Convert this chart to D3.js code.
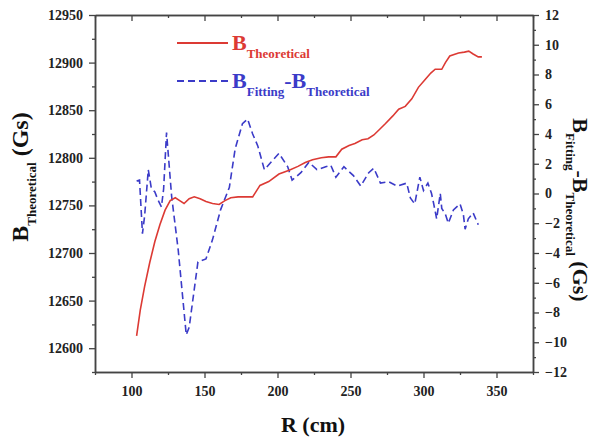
<!DOCTYPE html>
<html>
<head>
<meta charset="utf-8">
<script src="https://cdn.jsdelivr.net/npm/d3@7"></script>
<style>
  body { margin: 0; background: #fff; }
  svg text { font-family: "Liberation Serif", "Times New Roman", serif; font-weight: bold; }
</style>
</head>
<body>
<script>
// Red curve: B_Theoretical (left axis)
var rTheo = [103.5, 106, 109, 112.5, 116, 119.5, 123, 126.5, 130, 133, 136, 139.5, 143, 147, 151, 155.5,
  160, 164, 168, 173, 178, 183, 185.5, 188, 194, 201, 208, 214, 219, 224, 230, 235, 240, 244, 249, 253,
  258, 262, 266, 270, 274, 279, 283, 287.5, 292, 296.5, 301, 305, 308, 312.5, 315, 318, 324, 328, 331,
  334, 337.5, 340];
var bTheo = [12613, 12640, 12665, 12690, 12712, 12730, 12745, 12755, 12758, 12755, 12752, 12757, 12759,
  12757, 12754, 12752, 12751, 12755, 12758, 12759, 12759, 12759, 12765, 12771, 12775, 12783, 12787,
  12791, 12795, 12798, 12800, 12801, 12801, 12809, 12813, 12815, 12819, 12820, 12824, 12830, 12836,
  12844, 12851, 12854, 12862, 12874, 12882, 12889, 12893, 12893, 12900, 12907, 12910, 12911, 12912,
  12909, 12906, 12906];

// Blue curve: B_Fitting - B_Theoretical (right axis)
var rDiff = [103.5, 105.5, 107.5, 109, 111.5, 113.5, 116, 118, 120.5, 122, 124, 127.5, 132, 137.5, 139.5,
  145.5, 151, 155.5, 161, 167, 171, 176, 179.5, 183, 186.5, 191, 195.5, 201, 207, 210, 216, 221.5, 227,
  233, 236.5, 240, 245.5, 252, 257, 262.5, 266, 270.5, 276, 282, 288.5, 291, 294, 297.5, 300, 303,
  305.5, 307, 309, 311.5, 312.5, 315, 317, 320.5, 325, 327.3, 328.5, 330.7, 334, 337.5];
var dDiff = [0.84, 0.9, -2.7, -1.5, 1.6, 0.4, 0.1, -0.4, -0.9, 0.3, 4.1, -0.2, -3.8, -9.5, -9.0,
  -4.6, -4.4, -3.1, -1.1, 0.4, 3.0, 4.7, 5.0, 4.0, 3.2, 1.6, 2.1, 2.7, 1.8, 0.9, 1.4, 2.1, 1.6,
  1.8, 1.9, 1.1, 1.8, 1.2, 0.5, 1.4, 1.7, 0.7, 0.8, 0.5, 0.7, -0.3, -0.7, 1.1, 0.2, 0.7,
  0, -0.7, -1.7, 0, -1.0, -1.4, -2.0, -1.1, -0.7, -1.4, -2.4, -1.7, -1.3, -2.1];

var xTicks = [100, 150, 200, 250, 300, 350];
var xMinor = [75, 125, 175, 225, 275, 325, 375];
var yLeftTicks = [12600, 12650, 12700, 12750, 12800, 12850, 12900, 12950];
var yLeftMinor = [12575, 12625, 12675, 12725, 12775, 12825, 12875, 12925];
var yRightTicks = d3.range(-12, 13, 2);
var yRightMinor = d3.range(-11, 12, 2);

var W = 594, H = 437;
var margin = { top: 15, right: 61, bottom: 65, left: 95 },
    width = W - margin.left - margin.right,
    height = H - margin.top - margin.bottom;

var svg = d3.select("body").append("svg")
    .attr("width", W)
    .attr("height", H);

var g = svg.append("g")
    .attr("transform", "translate(" + margin.left + "," + margin.top + ")");

var x = d3.scaleLinear().domain([75, 375]).range([0, width]);
var yL = d3.scaleLinear().domain([12575, 12950]).range([height, 0]);
var yR = d3.scaleLinear().domain([-12, 12]).range([height, 0]);

var axisColor = "#444";

function styleAxis(sel) {
  sel.select(".domain").attr("stroke", axisColor).attr("stroke-width", 1.5);
  sel.selectAll(".tick line").attr("stroke", axisColor).attr("stroke-width", 1.3);
  sel.selectAll(".tick text").attr("fill", "#222").style("font-size", "14px");
}

// Bottom axis
g.append("g").attr("transform", "translate(0," + height + ")")
  .call(d3.axisBottom(x).tickValues(xTicks).tickSize(6).tickSizeOuter(0).tickPadding(8))
  .call(styleAxis);
g.append("g").attr("transform", "translate(0," + height + ")")
  .call(d3.axisBottom(x).tickValues(xMinor).tickSize(3).tickSizeOuter(0).tickFormat(""))
  .call(styleAxis);

// Top axis (ticks inward)
g.append("g")
  .call(d3.axisTop(x).tickValues(xTicks).tickSize(-6).tickSizeOuter(0).tickFormat(""))
  .call(styleAxis);
g.append("g")
  .call(d3.axisTop(x).tickValues(xMinor).tickSize(-3).tickSizeOuter(0).tickFormat(""))
  .call(styleAxis);

// Left axis
g.append("g")
  .call(d3.axisLeft(yL).tickValues(yLeftTicks).tickSize(6).tickSizeOuter(0).tickPadding(6)
    .tickFormat(d3.format("d")))
  .call(styleAxis);
g.append("g")
  .call(d3.axisLeft(yL).tickValues(yLeftMinor).tickSize(3).tickSizeOuter(0).tickFormat(""))
  .call(styleAxis);

// Right axis
g.append("g").attr("transform", "translate(" + width + ",0)")
  .call(d3.axisRight(yR).tickValues(yRightTicks).tickSize(6).tickSizeOuter(0).tickPadding(6)
    .tickFormat(d3.format("d")))
  .call(styleAxis);
g.append("g").attr("transform", "translate(" + width + ",0)")
  .call(d3.axisRight(yR).tickValues(yRightMinor).tickSize(3).tickSizeOuter(0).tickFormat(""))
  .call(styleAxis);

var red = "#dc3a34", blue = "#3b3bc8";

// Lines
var lineTheo = d3.line()
    .x(function (d, i) { return x(rTheo[i]); })
    .y(function (d) { return yL(d); });
var lineDiff = d3.line()
    .x(function (d, i) { return x(rDiff[i]); })
    .y(function (d) { return yR(d); });

g.append("path").datum(dDiff)
  .attr("fill", "none").attr("stroke", blue).attr("stroke-width", 1.6)
  .attr("stroke-dasharray", "7,4").attr("d", lineDiff);

g.append("path").datum(bTheo)
  .attr("fill", "none").attr("stroke", red).attr("stroke-width", 1.6)
  .attr("d", lineTheo);

// Legend
svg.append("line").attr("x1", 177).attr("x2", 228).attr("y1", 43).attr("y2", 43)
  .attr("stroke", red).attr("stroke-width", 1.8);
var t1 = svg.append("text").attr("x", 232).attr("y", 50).attr("fill", red).style("font-size", "22px");
t1.append("tspan").text("B");
t1.append("tspan").attr("dy", 8).style("font-size", "13px").text("Theoretical");

svg.append("line").attr("x1", 177).attr("x2", 228).attr("y1", 81).attr("y2", 81)
  .attr("stroke", blue).attr("stroke-width", 1.8).attr("stroke-dasharray", "7,4");
var t2 = svg.append("text").attr("x", 232).attr("y", 88).attr("fill", blue).style("font-size", "22px");
t2.append("tspan").text("B");
t2.append("tspan").attr("dy", 8).style("font-size", "13px").text("Fitting");
t2.append("tspan").attr("dy", -8).text("-B");
t2.append("tspan").attr("dy", 8).style("font-size", "13px").text("Theoretical");

// X title
svg.append("text").attr("x", 313).attr("y", 432).attr("text-anchor", "middle")
  .attr("fill", "#111").style("font-size", "22px").text("R (cm)");

// Left title
var lt = svg.append("text").attr("transform", "translate(28,177) rotate(-90)")
  .attr("text-anchor", "middle").attr("fill", "#111").style("font-size", "24px");
lt.append("tspan").text("B");
lt.append("tspan").attr("dy", 8).style("font-size", "13px").text("Theoretical");
lt.append("tspan").attr("dy", -8).text(" (Gs)");

// Right title
var rt = svg.append("text").attr("transform", "translate(573,210) rotate(90)")
  .attr("text-anchor", "middle").attr("fill", "#111").style("font-size", "22px");
rt.append("tspan").text("B");
rt.append("tspan").attr("dy", 7).style("font-size", "13px").text("Fitting");
rt.append("tspan").attr("dy", -7).text("-B");
rt.append("tspan").attr("dy", 7).style("font-size", "13px").text("Theoretical");
rt.append("tspan").attr("dy", -7).text(" (Gs)");
</script>
</body>
</html>
